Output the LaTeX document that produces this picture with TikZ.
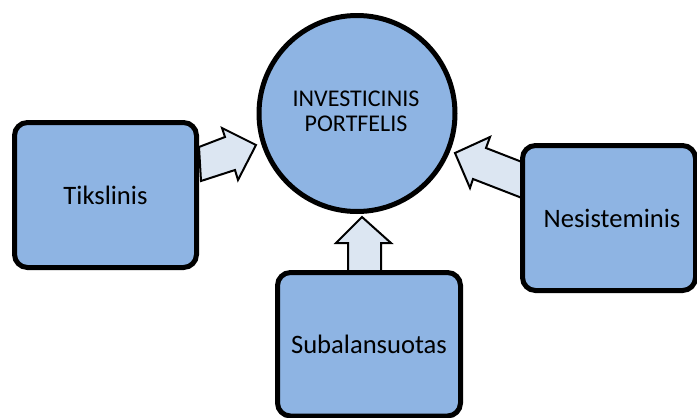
\documentclass[tikz,border=0pt]{standalone}
\usepackage{fontspec}
\setmainfont{Carlito}
\definecolor{boxblue}{HTML}{8EB4E3}
\definecolor{arrowfill}{HTML}{DCE6F2}
\begin{document}
\begin{tikzpicture}[x=1pt,y=-1pt,
  blockbox/.style={draw=black,line width=5pt,fill=boxblue,rounded corners=13pt},
  blockarrow/.style={draw=black,line width=2pt,fill=arrowfill,line join=miter},
  boxtext/.style={font=\fontsize{26.6}{29}\selectfont,text=black}]
\useasboundingbox (0,0) rectangle (697,418);
\clip (0,0) rectangle (697,418);
% block arrows (behind shapes)
\draw[blockarrow] (199,147) -- (225,137) -- (222,128) -- (256,145) -- (238,180) -- (235,170) -- (201,181) -- cycle;
\draw[blockarrow] (522,162) -- (486,148) -- (490,137) -- (455,153) -- (470,188) -- (473,179) -- (522,198) -- cycle;
\draw[blockarrow] (348,272) -- (348,243) -- (336,243) -- (362,217) -- (391,243) -- (381,243) -- (381,272) -- cycle;
% shapes
\draw[blockbox] (14.5,122.5) rectangle (196.5,267.5);
\node[boxtext] (tik) at (105.5,195) {Tikslinis};
\draw[blockbox] (522.5,145.5) rectangle (695.5,290.5);
\node[boxtext] (nes) at (612,218) {Nesisteminis};
\draw[blockbox] (277.5,272.5) rectangle (460.5,416);
\node[boxtext] (sub) at (369,344) {Subalansuotas};
\node[circle,draw=black,line width=5pt,fill=boxblue,minimum size=196pt,inner sep=0pt] (port) at (357,113.5) {};
\node[align=center,font=\fontsize{24}{25}\selectfont,text=black] (portt) at (356,111.5) {INVESTICINIS\\PORTFELIS};
\end{tikzpicture}
\end{document}
